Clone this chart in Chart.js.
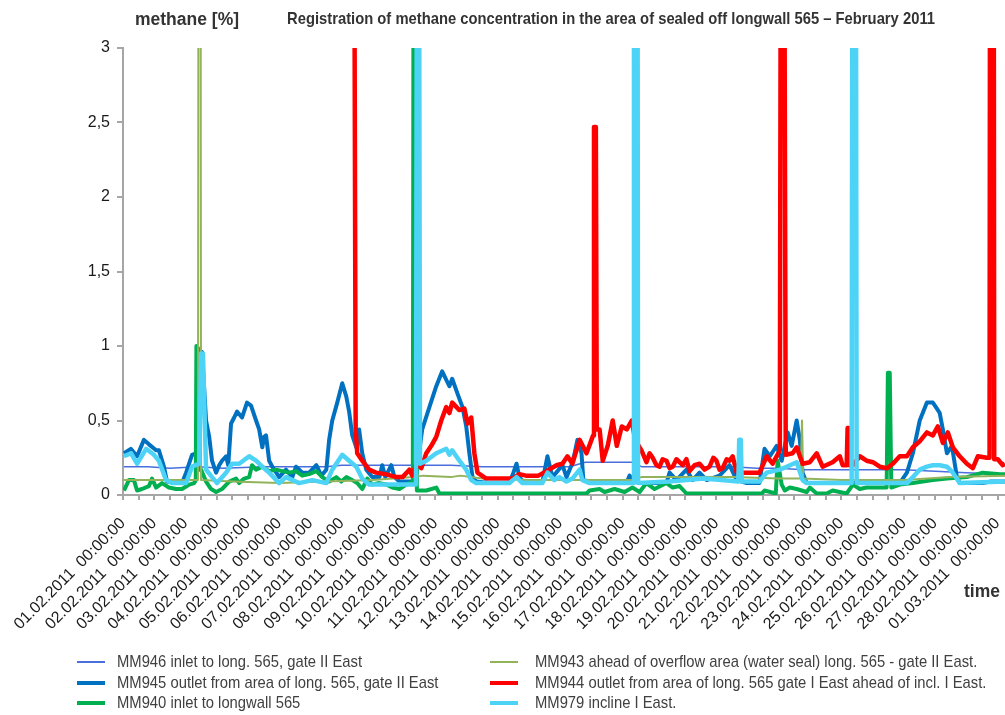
<!DOCTYPE html>
<html>
<head>
<meta charset="utf-8">
<script src="https://cdn.jsdelivr.net/npm/chart.js@4.4.1/dist/chart.umd.min.js"></script>
<style>
  html, body { margin: 0; padding: 0; background: #ffffff; }
  #wrap { width: 1005px; height: 715px; position: relative; }
</style>
</head>
<body>
<div id="wrap"><canvas id="c" width="1005" height="715"></canvas></div>
<script>
// Time is given in days since 01.02.2011 00:00:00; values in % methane.

const chartTitle = 'Registration of methane concentration in the area of sealed off longwall 565 \u2013 February 2011';
const yAxisTitle = 'methane [%]';
const xAxisTitle = 'time';

const dayLabels = [
  '01.02.2011  00:00:00', '02.02.2011  00:00:00', '03.02.2011  00:00:00', '04.02.2011  00:00:00',
  '05.02.2011  00:00:00', '06.02.2011  00:00:00', '07.02.2011  00:00:00', '08.02.2011  00:00:00',
  '09.02.2011  00:00:00', '10.02.2011  00:00:00', '11.02.2011  00:00:00', '12.02.2011  00:00:00',
  '13.02.2011  00:00:00', '14.02.2011  00:00:00', '15.02.2011  00:00:00', '16.02.2011  00:00:00',
  '17.02.2011  00:00:00', '18.02.2011  00:00:00', '19.02.2011  00:00:00', '20.02.2011  00:00:00',
  '21.02.2011  00:00:00', '22.02.2011  00:00:00', '23.02.2011  00:00:00', '24.02.2011  00:00:00',
  '25.02.2011  00:00:00', '26.02.2011  00:00:00', '27.02.2011  00:00:00', '28.02.2011  00:00:00',
  '01.03.2011  00:00:00'
];
const yTickValues = [0, 0.5, 1, 1.5, 2, 2.5, 3];
const yTickLabels = ['0', '0,5', '1', '1,5', '2', '2,5', '3'];

const seriesNames = [
  'MM946 inlet to long. 565, gate II East',
  'MM945 outlet from area of long. 565, gate II East',
  'MM940 inlet to longwall 565',
  'MM943 ahead of overflow area (water seal) long. 565 - gate II East.',
  'MM944 outlet from area of long. 565 gate I East ahead of incl. I East.',
  'MM979 incline I East.'
];

// MM946
const t946 = [0.03, 0.8, 1.5, 2.4, 3.2, 4.5, 5.5, 6.5, 7.0, 8.0, 9.3, 9.6, 10.5, 11.5, 12.5, 13.5, 14.3, 14.8, 15.5, 16.3, 16.6, 17.5, 18.5, 19.5, 20.3, 21.0, 21.8, 22.8, 24.0, 25.0, 26.0, 27.0, 28.24];
const v946 = [0.19, 0.19, 0.18, 0.19, 0.18, 0.19, 0.19, 0.19, 0.20, 0.20, 0.20, 0.20, 0.20, 0.19, 0.19, 0.19, 0.19, 0.22, 0.22, 0.22, 0.19, 0.19, 0.19, 0.19, 0.18, 0.18, 0.17, 0.17, 0.17, 0.17, 0.16, 0.15, 0.14];

// MM945
const t945 = [0.03,0.25,0.45,0.67,0.83,1.06,1.15,1.31,1.41,1.67,
  1.89,2.02,2.21,2.34,2.44,2.53,2.66,2.76,2.85,2.98,
  3.08,3.17,3.30,3.37,3.46,3.56,3.65,3.81,3.97,4.10,
  4.26,4.36,4.46,4.52,4.58,4.68,4.78,5.00,5.22,5.42,
  5.54,5.74,5.96,6.19,6.35,6.51,6.60,6.70,6.86,7.02,
  7.15,7.24,7.34,7.47,7.56,7.66,7.79,7.98,8.21,8.30,
  8.40,8.59,8.69,8.85,9.26,9.39,9.49,9.58,9.81,10.03,
  10.22,10.38,10.45,10.54,10.71,10.87,10.99,11.09,11.19,11.31,
  11.73,12.37,12.50,12.60,12.69,12.85,13.43,13.59,13.75,14.07,
  14.20,14.36,14.46,14.55,14.68,14.74,15.26,16.12,16.22,16.31,
  16.54,17.40,17.50,17.72,18.04,18.24,18.46,18.69,19.10,19.42,
  19.65,19.97,20.38,20.54,20.71,20.93,21.09,21.28,21.41,21.57,
  21.67,21.76,21.89,24.87,25.10,25.29,25.51,25.74,25.93,26.06,
  26.15,26.25,26.38,26.54,26.70,26.79,27.53,27.76,28.24];
const v945 = [0.28,0.31,0.26,0.37,0.34,0.30,0.30,0.19,0.09,0.08,
  0.08,0.15,0.27,0.28,0.45,0.96,0.50,0.39,0.23,0.15,
  0.20,0.23,0.26,0.20,0.48,0.52,0.56,0.52,0.62,0.60,
  0.50,0.44,0.32,0.39,0.40,0.23,0.19,0.12,0.17,0.12,
  0.19,0.15,0.15,0.20,0.13,0.17,0.37,0.50,0.62,0.75,
  0.66,0.56,0.40,0.32,0.44,0.28,0.17,0.12,0.12,0.20,
  0.12,0.20,0.12,0.09,0.09,0.15,0.30,0.44,0.59,0.73,
  0.83,0.76,0.73,0.78,0.68,0.59,0.46,0.28,0.12,0.09,
  0.08,0.08,0.15,0.21,0.12,0.08,0.09,0.26,0.12,0.20,
  0.12,0.20,0.28,0.37,0.28,0.10,0.08,0.08,0.13,0.10,
  0.08,0.08,0.15,0.10,0.17,0.10,0.15,0.10,0.13,0.20,
  0.10,0.08,0.08,0.31,0.26,0.33,0.23,0.42,0.33,0.50,
  0.37,0.15,0.08,0.08,0.15,0.28,0.50,0.62,0.62,0.58,
  0.55,0.44,0.28,0.33,0.12,0.08,0.08,0.09,0.09];

// MM940
const t940 = [0.03,0.19,0.35,0.45,0.61,0.83,0.93,1.06,1.25,1.47,
  1.70,1.89,2.12,2.28,2.33,2.35,2.42,2.45,2.50,2.66,
  2.82,2.98,3.17,3.40,3.62,3.72,3.88,4.04,4.13,4.26,
  4.46,4.68,4.90,5.10,5.32,5.54,5.74,5.96,6.19,6.38,
  6.60,6.83,6.99,7.15,7.34,7.50,7.66,7.82,7.98,8.21,
  8.43,8.62,8.85,9.07,9.28,9.31,9.37,9.41,9.71,10.03,
  10.13,14.84,14.94,15.26,15.42,15.74,16.06,16.31,16.54,16.76,
  17.02,17.40,17.60,17.82,18.04,20.45,20.54,20.90,20.96,21.09,
  21.19,21.35,21.57,21.89,21.99,22.21,22.53,22.72,23.17,23.37,
  23.59,23.81,24.39,24.45,24.49,24.55,24.60,24.87,25.29,25.93,
  26.38,27.02,27.53,28.08,28.24];
const v940 = [0.03,0.10,0.10,0.03,0.04,0.06,0.11,0.05,0.08,0.05,
  0.04,0.04,0.07,0.08,0.10,1.00,0.98,0.17,0.17,0.09,
  0.04,0.02,0.04,0.09,0.11,0.08,0.11,0.12,0.20,0.17,
  0.19,0.16,0.17,0.16,0.15,0.16,0.13,0.14,0.16,0.12,
  0.09,0.12,0.09,0.12,0.10,0.08,0.04,0.11,0.07,0.08,
  0.07,0.05,0.04,0.07,0.09,5.00,5.00,0.03,0.03,0.05,
  0.01,0.01,0.03,0.04,0.02,0.04,0.02,0.05,0.02,0.08,
  0.04,0.08,0.05,0.06,0.01,0.01,0.03,0.01,0.23,0.07,
  0.03,0.05,0.04,0.02,0.05,0.01,0.01,0.03,0.01,0.07,
  0.04,0.05,0.05,0.05,0.82,0.82,0.05,0.07,0.08,0.10,
  0.11,0.12,0.15,0.14,0.14];

// MM943
const t943 = [0.03, 1.0, 2.0, 2.40, 2.42, 2.48, 2.50, 3.5, 5.0, 6.5, 8.0, 9.3, 9.6, 10.5, 10.8, 11.5, 13.0, 16.3, 16.6, 18.0, 19.5, 21.0, 21.70, 21.74, 21.78, 23.0, 25.0, 26.5, 28.24];
const v943 = [0.10, 0.10, 0.10, 0.10, 5.00, 5.00, 0.10, 0.09, 0.08, 0.09, 0.10, 0.12, 0.13, 0.12, 0.13, 0.11, 0.10, 0.10, 0.12, 0.12, 0.12, 0.11, 0.11, 0.50, 0.11, 0.10, 0.10, 0.12, 0.13];

// MM944
const t944 = [7.39,7.45,7.50,7.66,7.88,8.10,8.40,8.75,8.95,9.17,
  9.26,9.39,9.55,9.71,9.87,10.03,10.19,10.35,10.45,10.54,
  10.77,10.93,11.03,11.15,11.25,11.35,11.63,12.50,12.69,12.90,
  13.30,13.56,13.88,14.07,14.23,14.39,14.62,14.84,15.00,15.05,
  15.08,15.14,15.17,15.26,15.36,15.52,15.68,15.81,15.97,16.13,
  16.29,16.40,16.60,16.76,16.86,16.96,17.08,17.18,17.28,17.40,
  17.50,17.60,17.72,17.92,18.04,18.14,18.30,18.46,18.62,18.78,
  18.90,19.00,19.10,19.20,19.33,19.42,19.52,19.65,20.38,20.61,
  20.80,21.03,21.07,21.16,21.22,21.44,21.57,21.76,21.99,22.21,
  22.40,22.72,22.95,23.04,23.17,23.20,23.24,23.27,23.37,23.59,
  23.81,24.01,24.23,24.46,24.65,24.87,25.10,25.29,25.51,25.74,
  25.93,26.09,26.25,26.41,26.57,26.79,27.02,27.21,27.37,27.66,
  27.745,27.765,27.875,27.895,28.01,28.17,28.24];
const v944 = [5.00,0.44,0.28,0.23,0.17,0.15,0.14,0.12,0.12,0.17,
  0.13,0.21,0.18,0.28,0.33,0.39,0.50,0.59,0.55,0.62,
  0.57,0.58,0.48,0.52,0.28,0.15,0.11,0.11,0.14,0.13,
  0.13,0.16,0.20,0.21,0.26,0.21,0.37,0.28,0.37,0.40,
  2.47,2.47,0.44,0.44,0.23,0.33,0.50,0.33,0.46,0.44,
  0.50,0.37,0.30,0.22,0.28,0.25,0.20,0.19,0.24,0.23,
  0.18,0.19,0.24,0.20,0.24,0.16,0.20,0.21,0.17,0.19,
  0.25,0.23,0.17,0.18,0.24,0.23,0.26,0.15,0.15,0.26,
  0.21,0.30,5.00,5.00,0.27,0.28,0.32,0.21,0.22,0.28,
  0.19,0.22,0.26,0.20,0.20,0.45,0.45,0.20,0.20,0.26,
  0.23,0.22,0.19,0.18,0.21,0.26,0.26,0.32,0.36,0.42,
  0.40,0.46,0.35,0.42,0.32,0.26,0.21,0.18,0.26,0.25,
  0.25,5.00,5.00,0.24,0.24,0.20,0.21];

// MM979
const t979 = [0.03,0.26,0.45,0.74,0.99,1.15,1.38,1.57,2.02,2.21,
  2.44,2.50,2.56,2.66,2.85,3.01,3.30,3.49,3.72,4.04,
  4.26,4.46,4.68,5.00,5.22,5.64,6.06,6.51,6.70,7.02,
  7.24,7.47,7.66,7.88,9.38,9.42,9.47,9.51,9.71,9.90,
  10.03,10.35,10.45,10.54,10.77,10.99,11.15,11.31,12.37,12.60,
  12.79,13.43,13.59,13.81,13.97,14.20,14.39,14.62,14.71,14.94,
  16.34,16.36,16.47,16.49,17.50,18.60,19.70,19.73,19.78,19.81,
  20.38,20.61,21.03,21.25,21.57,21.76,21.89,23.33,23.36,23.46,
  23.49,25.10,25.29,25.51,25.74,25.93,26.15,26.38,26.57,26.79,
  28.24];
const v979 = [0.26,0.28,0.21,0.31,0.27,0.23,0.10,0.08,0.08,0.19,
  0.21,0.95,0.95,0.17,0.12,0.08,0.15,0.21,0.21,0.26,
  0.23,0.19,0.15,0.08,0.12,0.08,0.10,0.08,0.17,0.27,
  0.23,0.19,0.11,0.07,0.07,5.00,5.00,0.21,0.23,0.26,
  0.28,0.31,0.27,0.30,0.23,0.17,0.10,0.08,0.08,0.12,
  0.08,0.08,0.15,0.10,0.12,0.09,0.11,0.17,0.10,0.08,
  0.08,5.00,5.00,0.08,0.09,0.11,0.09,0.37,0.37,0.09,
  0.09,0.15,0.17,0.19,0.22,0.10,0.08,0.08,5.00,5.00,
  0.08,0.08,0.12,0.17,0.19,0.20,0.20,0.19,0.15,0.08,
  0.09];

const FONT = '"Liberation Sans", Arial, Helvetica, sans-serif';

function series(label, t, v, color, width, order) {
  return {
    label,
    data: t.map((x, i) => ({ x, y: v[i] })),
    borderColor: color,
    backgroundColor: color,
    borderWidth: width,
    pointRadius: 0,
    pointHoverRadius: 0,
    tension: 0,
    fill: false,
    order,
    clip: 0,
    borderJoinStyle: 'round'
  };
}

// Later-listed series are drawn above earlier ones (lower order = on top)
const datasets = [
  series(seriesNames[0], t946, v946, '#4a6fdc', 1.5, 6),
  series(seriesNames[1], t945, v945, '#0070c0', 4, 5),
  series(seriesNames[2], t940, v940, '#00b050', 4, 4),
  series(seriesNames[3], t943, v943, '#93b35a', 2, 3),
  series(seriesNames[4], t944, v944, '#ff0000', 4.5, 2),
  series(seriesNames[5], t979, v979, '#4dd3f5', 4.5, 1)
];

const halfDayTicks = [];
for (let d = 0; d <= 28; d++) { halfDayTicks.push(d); if (d < 28) halfDayTicks.push(d + 0.5); }

// Titles, axis captions and the two-column legend
const decorations = {
  id: 'decorations',
  afterDraw(chart) {
    const ctx = chart.ctx;
    ctx.save();
    ctx.textBaseline = 'middle';
    ctx.textAlign = 'left';
    ctx.fillStyle = '#333333';
    ctx.font = 'bold 17.5px ' + FONT;
    ctx.fillText(yAxisTitle, 135, 20);
    ctx.font = 'bold 17px ' + FONT;
    ctx.fillText(chartTitle, 287, 19, 648);
    ctx.font = 'bold 17.5px ' + FONT;
    ctx.fillText(xAxisTitle, 964, 592);

    const cols = [{ lx0: 77, lx1: 105, tx: 117 }, { lx0: 490, lx1: 518, tx: 535 }];
    const rows = [662, 683, 703];
    chart.data.datasets.forEach((ds, i) => {
      const c = cols[i < 3 ? 0 : 1];
      const y = rows[i % 3];
      ctx.strokeStyle = ds.borderColor;
      ctx.lineWidth = ds.borderWidth > 3 ? 4 : 2;
      ctx.beginPath();
      ctx.moveTo(c.lx0, y);
      ctx.lineTo(c.lx1, y);
      ctx.stroke();
      ctx.save();
      ctx.translate(c.tx, y);
      ctx.scale(0.87, 1);
      ctx.font = '17px ' + FONT;
      ctx.fillStyle = '#404040';
      ctx.fillText(ds.label, 0, 0);
      ctx.restore();
    });
    ctx.restore();
  }
};

new Chart(document.getElementById('c'), {
  type: 'line',
  data: { datasets },
  plugins: [decorations],
  options: {
    responsive: false,
    animation: false,
    devicePixelRatio: 1,
    layout: { padding: { top: 48, right: 0, left: 0, bottom: 0 } },
    plugins: { legend: { display: false }, tooltip: { enabled: false }, title: { display: false } },
    scales: {
      x: {
        type: 'linear',
        min: 0,
        max: 28.24,
        afterBuildTicks: s => { s.ticks = halfDayTicks.map(v => ({ value: v })); },
        afterFit: s => { s.height = 220; s.paddingLeft = 0; s.paddingRight = 0; },
        ticks: {
          autoSkip: false,
          minRotation: 45,
          maxRotation: 45,
          padding: 18,
          color: '#1a1a1a',
          font: { family: FONT, size: 16, lineHeight: 0.5 },
          callback: v => (Math.abs(v - Math.round(v)) < 1e-9 ? dayLabels[Math.round(v)] : '')
        },
        grid: { drawOnChartArea: false, drawTicks: true, tickLength: 5, color: '#a6a6a6', lineWidth: 2 },
        border: { display: true, color: '#a6a6a6', width: 2 }
      },
      y: {
        min: 0,
        max: 3,
        afterBuildTicks: s => { s.ticks = yTickValues.map(v => ({ value: v })); },
        afterFit: s => { s.width = 123; s.paddingTop = 0; s.paddingBottom = 0; },
        ticks: {
          padding: 7,
          color: '#1a1a1a',
          font: { family: FONT, size: 16 },
          callback: v => yTickLabels[yTickValues.indexOf(v)]
        },
        grid: { drawOnChartArea: false, drawTicks: true, tickLength: 6, color: '#a6a6a6', lineWidth: 2 },
        border: { display: true, color: '#a6a6a6', width: 2 }
      }
    }
  }
});
</script>
</body>
</html>
